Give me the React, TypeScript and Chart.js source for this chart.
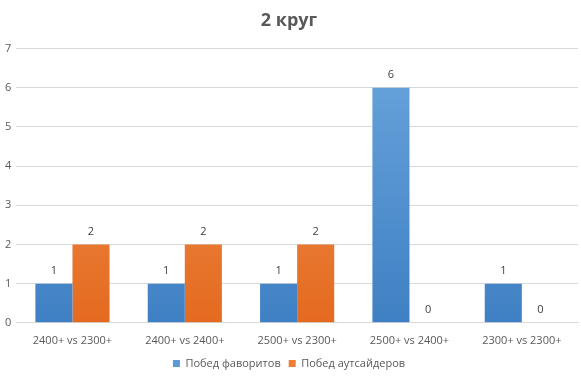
import React, { useEffect, useRef } from "react";
import { Chart, registerables } from "chart.js";

Chart.register(...registerables);

const categories = ["2400+ vs 2300+", "2400+ vs 2400+", "2500+ vs 2300+", "2500+ vs 2400+", "2300+ vs 2300+"];
const favorites = [1, 1, 1, 6, 1];
const outsiders = [2, 2, 2, 0, 0];
const seriesNames = ["Побед фаворитов", "Побед аутсайдеров"];
const titleText = "2 круг";

const FONT = "'Open Sans', 'Liberation Sans', sans-serif";

function grad(ctx: any, chartArea: any, top: string, bottom: string) {
  if (!chartArea) return bottom;
  const g = ctx.createLinearGradient(0, chartArea.top, 0, chartArea.bottom);
  g.addColorStop(0, top);
  g.addColorStop(1, bottom);
  return g;
}

const valueLabels = {
  id: "valueLabels",
  afterDatasetsDraw(chart: any) {
    const ctx = chart.ctx;
    ctx.save();
    ctx.font = `11px ${FONT}`;
    ctx.fillStyle = "#404040";
    ctx.textAlign = "center";
    ctx.textBaseline = "bottom";
    chart.data.datasets.forEach((ds: any, i: number) => {
      const meta = chart.getDatasetMeta(i);
      meta.data.forEach((bar: any, j: number) => {
        ctx.fillText(String(ds.data[j]), bar.x, bar.y - 7);
      });
    });
    ctx.restore();
  },
};

export default function App() {
  const ref = useRef<HTMLCanvasElement>(null);
  useEffect(() => {
    if (!ref.current) return;
    const chart = new Chart(ref.current, {
      type: "bar",
      data: {
        labels: categories,
        datasets: [
          {
            label: seriesNames[0],
            data: favorites,
            backgroundColor: (c: any) => grad(c.chart.ctx, c.chart.chartArea, "#6aa5dc", "#3f80c4"),
            borderWidth: 0,
            categoryPercentage: 0.66,
            barPercentage: 1,
          },
          {
            label: seriesNames[1],
            data: outsiders,
            backgroundColor: (c: any) => grad(c.chart.ctx, c.chart.chartArea, "#f3975a", "#e46a1f"),
            borderWidth: 0,
            categoryPercentage: 0.66,
            barPercentage: 1,
          },
        ],
      },
      options: {
        animation: false,
        responsive: true,
        maintainAspectRatio: false,
        layout: { padding: { left: 0, right: 3, top: 4, bottom: 0 } },
        plugins: {
          title: {
            display: true,
            text: titleText,
            color: "#595959",
            font: { family: FONT, size: 18, weight: "bold" },
            padding: { top: 6, bottom: 17 },
          },
          legend: {
            position: "bottom",
            labels: {
              color: "#595959",
              font: { family: FONT, size: 11 },
              boxWidth: 7,
              boxHeight: 7,
              padding: 8,
              generateLabels: (chart: any) =>
                chart.data.datasets.map((ds: any, i: number) => ({
                  text: ds.label,
                  fillStyle: i === 0 ? "#5b9bd5" : "#ed7d31",
                  strokeStyle: "transparent",
                  lineWidth: 0,
                  datasetIndex: i,
                  fontColor: "#595959",
                })),
            },
          },
          tooltip: { enabled: false },
        },
        scales: {
          x: {
            grid: { display: false },
            border: { display: true, color: "#d9d9d9" },
            ticks: { color: "#595959", font: { family: FONT, size: 11 }, padding: 3 },
          },
          y: {
            min: 0,
            max: 7,
            ticks: { stepSize: 1, color: "#595959", font: { family: FONT, size: 11 }, padding: 5 },
            grid: { color: "#d9d9d9", drawTicks: false },
            border: { display: false },
          },
        },
      },
      plugins: [valueLabels],
    });
    return () => chart.destroy();
  }, []);
  return (
    <div style={{ position: "fixed", left: 0, top: 0, width: 581, height: 379, background: "#fff" }}>
      <canvas ref={ref} />
    </div>
  );
}
